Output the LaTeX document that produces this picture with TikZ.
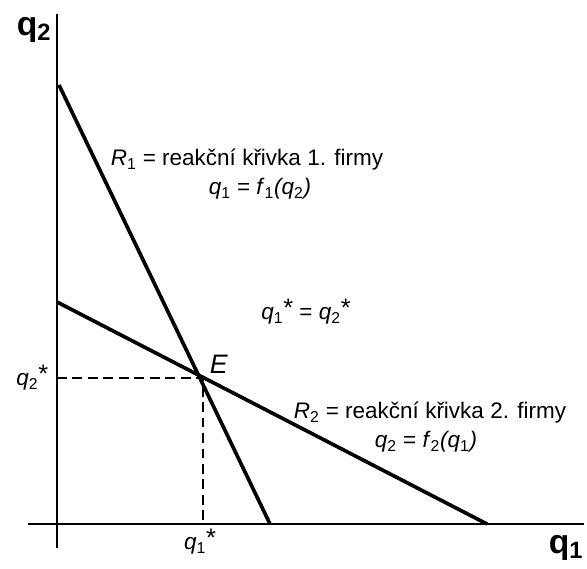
\documentclass[tikz,border=0pt]{standalone}
\usepackage{fontspec}
\setmainfont{Liberation Sans}
\newcommand{\qv}[1]{\textit{q}\textsubscript{#1}}
\newcommand{\st}{\raisebox{0.25ex}{\fontsize{18}{20}\selectfont *}}
\tikzset{
  curve/.style={line width=2.6pt},
  axis/.style={line width=0.9pt},
  guide/.style={line width=0.8pt, dash pattern=on 7pt off 4pt},
  lbl/.style={font=\fontsize{16}{19}\selectfont, inner sep=1pt, align=center},
  axlbl/.style={font=\fontsize{24}{26}\selectfont\bfseries, inner sep=0pt}
}
\begin{document}
\begin{tikzpicture}[x=0.025cm,y=-0.025cm]
  \useasboundingbox (0,0) rectangle (587,569);
  % axes
  \coordinate (o) at (57,524);
  \coordinate (ytop) at (57,14);
  \coordinate (ybot) at (57,548);
  \coordinate (xleft) at (28,524);
  \coordinate (xright) at (584,524);
  \draw[axis] (ybot) -- (ytop);
  \draw[axis] (xleft) -- (xright);
  \node[axlbl] (q2ax) at (34,30) {q\textsubscript{2}};
  \node[axlbl] (q1ax) at (566,548) {q\textsubscript{1}};
  % reaction curves
  \coordinate (r1a) at (59,85);
  \coordinate (r1b) at (270,524);
  \coordinate (r2a) at (57,302);
  \coordinate (r2b) at (487,524);
  \draw[curve] (r1a) -- (r1b);
  \draw[curve] (r2a) -- (r2b);
  % equilibrium
  \coordinate (E) at (203,378);
  \coordinate (ey) at (57,378);
  \coordinate (ex) at (203,524);
  \draw[guide] (ey) -- (E) -- (ex);
  \node[lbl, font=\fontsize{19}{21}\selectfont] (elbl) at (219,364) {\textit{E}};
  \node[lbl, anchor=east] (q2s) at (50,378) {\qv{2}\st};
  \node[lbl] (q1s) at (200,542) {\qv{1}\st};
  \node[lbl] (eq) at (306,312) {\qv{1}\st{} = \qv{2}\st};
  % labels of curves
  \node[lbl] (r1t) at (247,160) {\textit{R}\textsubscript{1} = reakční křivka 1. firmy};
  \node[lbl] (r1f) at (260,189) {\qv{1} = \textit{f}\textsubscript{1}\textit{(q}\textsubscript{2}\textit{)}};
  \node[lbl] (r2t) at (430,413) {\textit{R}\textsubscript{2} = reakční křivka 2. firmy};
  \node[lbl] (r2f) at (426,442) {\qv{2} = \textit{f}\textsubscript{2}\textit{(q}\textsubscript{1}\textit{)}};
\end{tikzpicture}
\end{document}
